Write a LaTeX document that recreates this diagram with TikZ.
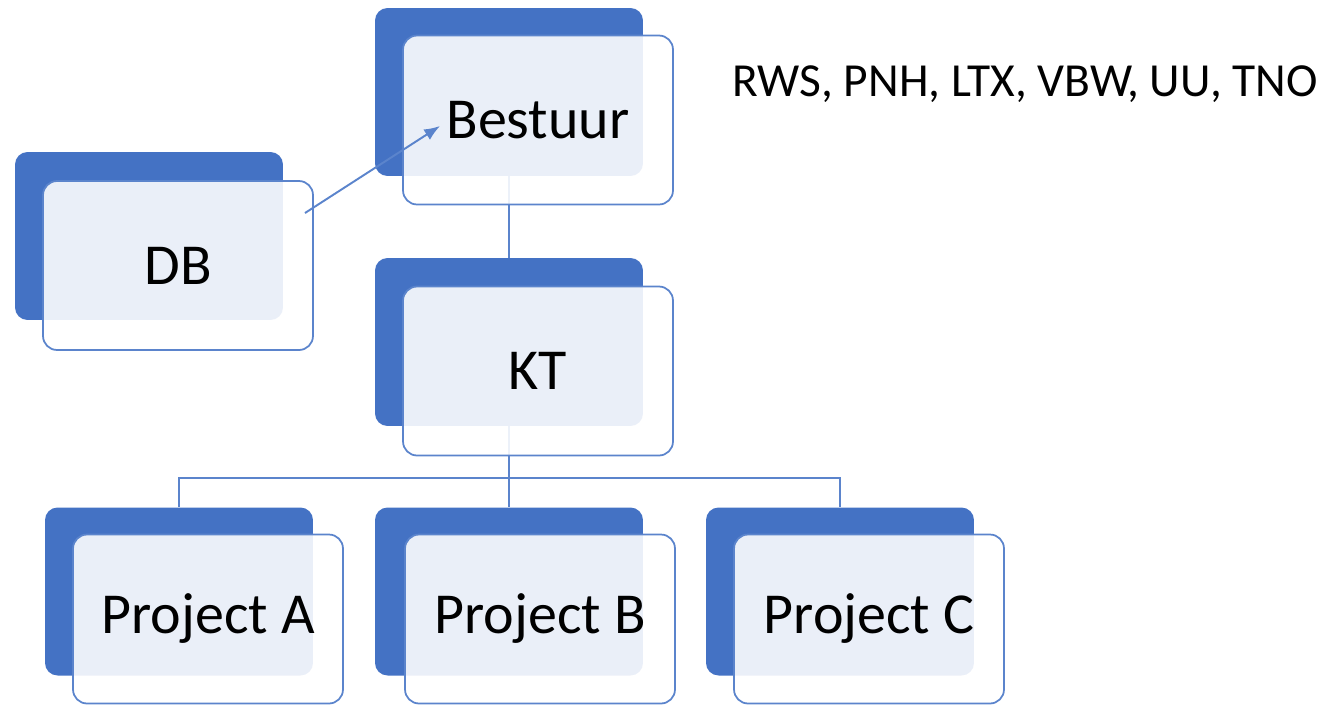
\documentclass[tikz,border=0pt]{standalone}
\usepackage{fontspec}
\setmainfont{Carlito}
\usepackage{xcolor}
\usetikzlibrary{arrows.meta,backgrounds}
\definecolor{accent}{HTML}{4472C4}
\definecolor{linkline}{HTML}{5B84CC}

\begin{document}
\begin{tikzpicture}[x=0.02cm,y=-0.02cm,
    backbox/.style={rectangle,rounded corners=0.25cm,fill=accent,minimum width=5.36cm,minimum height=3.36cm,inner sep=0pt},
    frontbox/.style={rectangle,rounded corners=0.28cm,draw=linkline,line width=1pt,fill=white,fill opacity=0.89,text opacity=1,minimum width=5.4cm,minimum height=3.38cm,inner sep=0pt,font=\fontsize{33}{38}\selectfont},
    link/.style={draw=linkline,line width=1.1pt}]
  \useasboundingbox (0,0) rectangle (1327,704);

  \node[backbox] (db-b) at (149,236) {};
  \node[frontbox] (db) at (178,265.5) {DB};
  \node[backbox] (bestuur-b) at (509,92) {};
  \node[frontbox] (bestuur) at (538,120) {Bestuur};
  \node[backbox] (kt-b) at (509,342) {};
  \node[frontbox] (kt) at (538,371) {KT};
  \node[backbox] (pa-b) at (179,591.5) {};
  \node[frontbox] (pa) at (208,619) {Project A};
  \node[backbox] (pb-b) at (509,591.5) {};
  \node[frontbox] (pb) at (540,619) {Project B};
  \node[backbox] (pc-b) at (840,591.5) {};
  \node[frontbox] (pc) at (869,619) {Project C};

  \node[font=\fontsize{27}{32}\selectfont] (leden) at (1025,84) {RWS, PNH, LTX, VBW, UU, TNO};

  \begin{pgfonlayer}{background}
    \coordinate (split) at (509,478);
    \draw[link] (bestuur-b.south) -- (kt-b.north);
    \draw[link] (kt-b.south) -- (split);
    \draw[link] (pa-b.north) |- (split) -| (pc-b.north);
    \draw[link] (split) -- (pb-b.north);
  \end{pgfonlayer}

  \coordinate (db-uit) at (305,213);
  \coordinate (bestuur-in) at (440,126);
  \draw[link,-{Latex[length=9pt,width=7pt]}] (db-uit) -- (bestuur-in);
\end{tikzpicture}
\end{document}
